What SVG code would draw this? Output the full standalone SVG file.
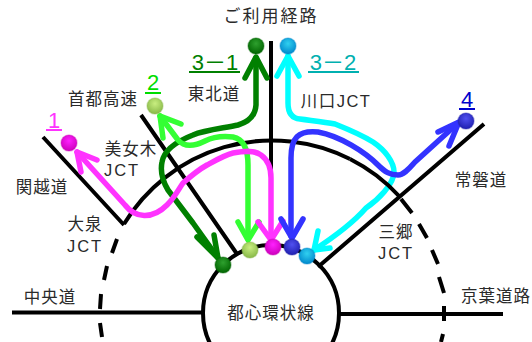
<svg xmlns="http://www.w3.org/2000/svg" width="532" height="342" viewBox="0 0 532 342">
<style>
text{font-family:"Liberation Sans","Noto Sans CJK JP",sans-serif;font-size:16.500px;letter-spacing:1px;fill:#2a2a2a;text-anchor:middle}
.j{letter-spacing:2px}
.road{fill:none;stroke:#000;stroke-width:4;stroke-linecap:butt}
.a{fill:none;stroke-width:5.500;stroke-linecap:round;stroke-linejoin:round}
.n{font-size:22px;letter-spacing:0}
.u{stroke-width:2}
.o{stroke-width:1.500;stroke-opacity:.35}
</style>
<defs>
<radialGradient id="gD" cx=".5" cy=".35" r=".65"><stop offset="0" stop-color="#2ea02e"/><stop offset="1" stop-color="#006400"/></radialGradient>
<radialGradient id="gC" cx=".5" cy=".35" r=".65"><stop offset="0" stop-color="#30d0f0"/><stop offset="1" stop-color="#0088cc"/></radialGradient>
<radialGradient id="gL" cx=".5" cy=".35" r=".65"><stop offset="0" stop-color="#c8ee80"/><stop offset="1" stop-color="#88b848"/></radialGradient>
<radialGradient id="gM" cx=".5" cy=".35" r=".65"><stop offset="0" stop-color="#ff20ff"/><stop offset="1" stop-color="#cc00bb"/></radialGradient>
<radialGradient id="gB" cx=".5" cy=".35" r=".65"><stop offset="0" stop-color="#5050f0"/><stop offset="1" stop-color="#2020b0"/></radialGradient>
</defs>
<g id="roads">
<circle class="road" cx="271" cy="313" r="68"/>
<path class="road" d="M124 224A173 173 0 0 1 350 159"/>
<path class="road" d="M117 239L112 253M107 266L104 280M101 294L100 309M100 323L102 337M401 199L412 213M419 224L427 238M432 250L438 264M439 277L444 293M444 306L444 321M443 334L441 342"/>
<path class="road" d="M43 137L124 225M141 115L237 254M271 41V245M484 124L318 267M12 312.500H203M339 314H503"/>
</g>
<g id="connectors">
<g stroke="#008000" class="a">
<path d="M256 58V105Q255 120 238 125C225 128 205 130 193 135C175 142 164 150 162 162C160 172 162 180 168 190L193 223L218 258"/>
<path d="M245 78L256 57L267 78M197 237L218 258L214 235"/>
</g>
<g stroke="#00ffff" class="a">
<path d="M288 56V103Q288 118 300 119C315 121 325 122 335 124C350 130 365 137 373 142C385 150 394 162 394 172C394 184 378 200 366 208C352 224 334 237 314 250"/>
<path d="M277 76L288 56L299 76M318 231L314 250L330 248"/>
</g>
<g stroke="#33ff33" class="a">
<path d="M160 116L178 140C185 148 195 146 205 141C215 136 225 136 233 137C243 139 248 148 248 165V238"/>
<path d="M181 124L160 116L163 138M238 222L248 240L259 222"/>
</g>
<g stroke="#ff33ff" class="a">
<path d="M77 152L125 205C135 218 152 220 167 205C175 197 178 190 183 183C192 175 198 170 207 165C218 159 225 155 233 153C245 151 255 150 261 155C268 160 271 168 271 178V238"/>
<path d="M97 160L77 152L81 172M258 222L271 240L283 221"/>
</g>
<g stroke="#3333ff" class="a">
<path d="M458 123L415 162C408 170 403 175 398 175C390 175 385 172 378 165C365 152 340 136 318 132C298 130 291 138 291 158V236"/>
<path d="M438 132L459 122L449 146M281 219L292 238L303 219"/>
</g>
</g>
<g id="road-over-cyan">
<path class="road" d="M350 159A173 173 0 0 1 400 197"/>
</g>
<g id="node-ne-green"><circle class="o" cx="256" cy="46" r="8" fill="url(#gD)" stroke="#006400"/></g>
<g id="node-ne-cyan"><circle class="o" cx="288" cy="46" r="8" fill="url(#gC)" stroke="#0088cc"/></g>
<g id="node-shuto"><circle class="o" cx="155" cy="106" r="8" fill="url(#gL)" stroke="#88b848"/></g>
<g id="node-kanetsu"><circle class="o" cx="69" cy="143" r="8" fill="url(#gM)" stroke="#cc00bb"/></g>
<g id="node-joban"><circle class="o" cx="466" cy="121" r="8" fill="url(#gB)" stroke="#2020b0"/></g>
<g id="node-c-green"><circle class="o" cx="223" cy="265" r="8" fill="url(#gD)" stroke="#006400"/></g>
<g id="node-c-light"><circle class="o" cx="250" cy="250" r="8" fill="url(#gL)" stroke="#88b848"/></g>
<g id="node-c-magenta"><circle class="o" cx="273" cy="247" r="8" fill="url(#gM)" stroke="#cc00bb"/></g>
<g id="node-c-blue"><circle class="o" cx="292" cy="247" r="8" fill="url(#gB)" stroke="#2020b0"/></g>
<g id="node-c-cyan"><circle class="o" cx="307" cy="256" r="8" fill="url(#gC)" stroke="#0088cc"/></g>
<g id="labels">
<text x="271" y="22" style="font-size:17px;letter-spacing:2px">ご利用経路</text>
<text x="103" y="105">首都高速</text>
<text x="214" y="100">東北道</text>
<text x="336" y="107" style="letter-spacing:1.500px">川口JCT</text>
<text x="131" y="155">美女木</text>
<text class="j" x="122" y="176">JCT</text>
<text x="42" y="193">関越道</text>
<text x="85" y="230">大泉</text>
<text class="j" x="85" y="252">JCT</text>
<text x="50" y="303">中央道</text>
<text x="271" y="319">都心環状線</text>
<text x="481" y="186">常磐道</text>
<text x="396" y="238">三郷</text>
<text class="j" x="396" y="259">JCT</text>
<text x="496" y="302">京葉道路</text>
</g>
<g id="route-numbers">
<text class="n" x="54" y="128" style="fill:#ff33ff">1</text><path class="u" stroke="#ff33ff" d="M46 130H62"/>
<text class="n" x="153" y="90" style="fill:#00dd00">2</text><path class="u" stroke="#00dd00" d="M145 93H161"/>
<text class="n" x="215" y="70" style="fill:#008000">3－1</text><path class="u" stroke="#008000" d="M189 72H240"/>
<text class="n" x="333" y="70" style="fill:#00b0b0">3－2</text><path class="u" stroke="#00b0b0" d="M308 72H359"/>
<text class="n" x="467" y="107" style="fill:#0000cc">4</text><path class="u" stroke="#0000cc" d="M459 109H475"/>
</g>
</svg>
